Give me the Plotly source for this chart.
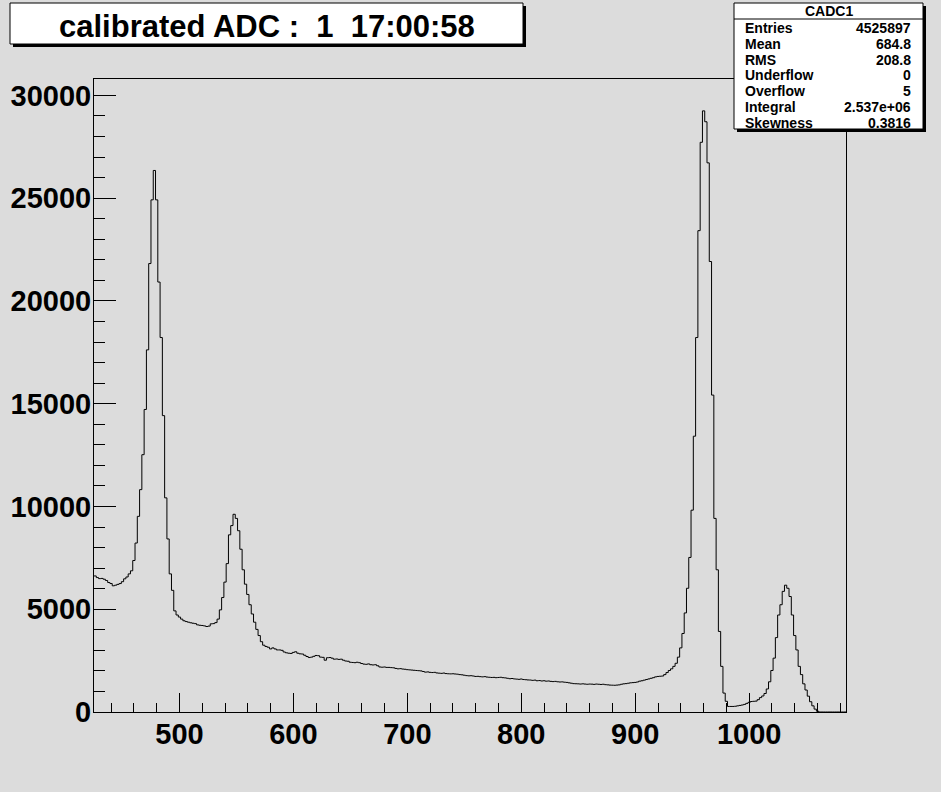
import numpy as np
import plotly.graph_objects as go

# ---------------- data ----------------
X_MIN, X_MAX, BIN = 425, 1085, 2
COUNTS = [
    6620, 6540, 6490, 6500, 6460, 6400, 6300, 6250, 6140, 6170,
    6210, 6250, 6340, 6480, 6570, 6720, 6870, 7370, 8220, 9520,
    10820, 12520, 14720, 17620, 21820, 24920, 26350, 24920, 20920, 18220,
    14420, 10420, 8420, 6720, 5920, 4920, 4720, 4620, 4520, 4440,
    4400, 4370, 4340, 4320, 4300, 4240, 4220, 4210, 4190, 4160,
    4180, 4290, 4300, 4350, 4520, 4970, 5570, 6320, 7220, 8620,
    9070, 9620, 9420, 8820, 7920, 6920, 6220, 5720, 5220, 4770,
    4370, 4020, 3720, 3420, 3250, 3190, 3150, 3070, 3120, 3070,
    3020, 3020, 3000, 2920, 2880, 2860, 2850, 2900, 2930, 2860,
    2830, 2820, 2760, 2700, 2650, 2670, 2710, 2750, 2740, 2670,
    2660, 2520, 2640, 2650, 2620, 2570, 2580, 2560, 2570, 2520,
    2480, 2470, 2420, 2410, 2400, 2420, 2400, 2360, 2330, 2320,
    2340, 2300, 2290, 2300, 2250, 2190, 2180, 2190, 2170, 2170,
    2160, 2150, 2120, 2100, 2110, 2090, 2080, 2060, 2050, 2040,
    2030, 2020, 2010, 2000, 1970, 1940, 1950, 1930, 1920, 1930,
    1900, 1890, 1880, 1895, 1870, 1860, 1855, 1860, 1850, 1840,
    1820, 1810, 1790, 1770, 1760, 1765, 1750, 1730, 1735, 1720,
    1710, 1720, 1700, 1690, 1680, 1685, 1670, 1680, 1690, 1670,
    1660, 1640, 1620, 1630, 1610, 1600, 1590, 1605, 1580, 1570,
    1560, 1555, 1540, 1550, 1520, 1530, 1510, 1520, 1500, 1510,
    1490, 1480, 1490, 1470, 1460, 1465, 1450, 1440, 1420, 1400,
    1380, 1375, 1370, 1360, 1370, 1360, 1350, 1360, 1355, 1345,
    1360, 1350, 1340, 1350, 1330, 1320, 1310, 1305, 1300, 1310,
    1320, 1350, 1370, 1380, 1400, 1420, 1430, 1440, 1460, 1500,
    1520, 1550, 1580, 1610, 1640, 1670, 1710, 1730, 1740, 1750,
    1820, 1920, 2020, 2100, 2220, 2370, 2670, 3120, 3820, 4820,
    6020, 7520, 9820, 13420, 18220, 23420, 27720, 29250, 28720, 26720,
    21920, 15420, 9420, 6920, 3920, 2220, 920, 520, 270, 270,
    270, 280, 300, 320, 340, 370, 420, 470, 510, 520,
    530, 600, 700, 780, 900, 1120, 1470, 2020, 2620, 3620,
    4720, 5220, 5870, 6170, 6020, 5620, 4720, 3720, 3020, 2220,
    1820, 1370, 1070, 770, 500, 300, 140, 40, 0, 0,
    0, 0, 0, 0, 0, 0, 0, 0, 0, 0,
]
Y_MAX = 30800
X_DTICK, X_MINOR = 100, 20
Y_DTICK, Y_MINOR = 5000, 1000

TITLE = "calibrated ADC :  1  17:00:58"
STATS_NAME = "CADC1"
STATS_LABELS = ["Entries", "Mean", "RMS", "Underflow", "Overflow", "Integral", "Skewness"]
STATS_VALUES = ["4525897", "684.8", "208.8", "0", "5", "2.537e+06", "0.3816"]

# ---------------- layout constants (pixels) ----------------
W, H = 941, 792
L, R, T, B = 94, 846, 79, 712
BG = "#dcdcdc"
FONT = "Liberation Sans, Arial, Helvetica, sans-serif"


def px(xpix):
    return (xpix - L) / (R - L)


def py(ypix):
    return (B - ypix) / (B - T)


edges = X_MIN + BIN * np.arange(len(COUNTS) + 1)
yvals = list(COUNTS) + [COUNTS[-1]]

fig = go.Figure()
fig.add_trace(go.Scatter(
    x=edges, y=yvals, mode="lines",
    line=dict(shape="hv", color="black", width=1),
    hoverinfo="skip", showlegend=False,
))

tickfont = dict(family=FONT, size=29, color="black", weight="bold")

fig.update_xaxes(
    range=[X_MIN, X_MAX], showgrid=False, zeroline=False, automargin=False,
    showline=True, linecolor="black", linewidth=1, mirror=True,
    ticks="inside", ticklen=19, tickwidth=1, tickcolor="black",
    tick0=0, dtick=X_DTICK, tickfont=tickfont, tickformat="d",
    ticklabelstandoff=-4,
    minor=dict(ticks="inside", ticklen=9, tickwidth=1, tickcolor="black",
               dtick=X_MINOR, tick0=0, showgrid=False),
)
fig.update_yaxes(
    range=[0, Y_MAX], showgrid=False, zeroline=False, automargin=False,
    showline=True, linecolor="black", linewidth=1, mirror=True,
    ticks="inside", ticklen=22, tickwidth=1, tickcolor="black",
    tick0=0, dtick=Y_DTICK, tickfont=tickfont, tickformat="d",
    ticklabelstandoff=-4,
    minor=dict(ticks="inside", ticklen=11, tickwidth=1, tickcolor="black",
               dtick=Y_MINOR, tick0=0, showgrid=False),
)

shapes = []
annotations = []


def box(x0, y0, x1, y1, shadow=3):
    shapes.append(dict(type="rect", xref="paper", yref="paper",
                       x0=px(x0 + shadow), x1=px(x1 + shadow),
                       y0=py(y0 + shadow), y1=py(y1 + shadow),
                       fillcolor="black", line=dict(width=0), layer="above"))
    shapes.append(dict(type="rect", xref="paper", yref="paper",
                       x0=px(x0), x1=px(x1), y0=py(y0), y1=py(y1),
                       fillcolor="white", line=dict(color="black", width=1),
                       layer="above"))


# title box
box(10, 3, 523, 44)
annotations.append(dict(
    text=TITLE.replace("  ", " \u00a0"), xref="paper", yref="paper",
    x=px(266.5), y=py(27), xanchor="center", yanchor="middle",
    showarrow=False, font=dict(family=FONT, size=31, color="black", weight="bold"),
))

# stats box
SX0, SX1, SY0, SY1 = 734, 923, 3, 129
box(SX0, SY0, SX1, SY1, shadow=3)
shapes.append(dict(type="line", xref="paper", yref="paper",
                   x0=px(SX0), x1=px(SX1), y0=py(19), y1=py(19),
                   line=dict(color="black", width=1), layer="above"))
sfont = dict(family=FONT, size=14, color="black", weight="bold")
annotations.append(dict(text=STATS_NAME, xref="paper", yref="paper",
                        x=px((SX0 + SX1) / 2), y=py(11.5), xanchor="center",
                        yanchor="middle", showarrow=False, font=sfont))
row_y0, row_dy = 28, 15.8
for i, (lab, val) in enumerate(zip(STATS_LABELS, STATS_VALUES)):
    yy = py(row_y0 + i * row_dy)
    annotations.append(dict(text=lab, xref="paper", yref="paper", x=px(743),
                            y=yy, xanchor="left", yanchor="middle",
                            showarrow=False, font=sfont))
    annotations.append(dict(text=val, xref="paper", yref="paper", x=px(913),
                            y=yy, xanchor="right", yanchor="middle",
                            showarrow=False, font=sfont))

fig.update_layout(
    width=W, height=H, autosize=False,
    margin=dict(l=L, r=W - R, t=T, b=H - B, pad=0, autoexpand=False),
    paper_bgcolor=BG, plot_bgcolor=BG,
    shapes=shapes, annotations=annotations,
    showlegend=False,
)

fig.write_html(
    "out.html",
    config={"displayModeBar": False},
    post_script="document.body.style.margin='0';document.body.style.padding='0';"
                "document.body.style.overflow='hidden';"
                "document.body.style.background='" + BG + "';",
)
